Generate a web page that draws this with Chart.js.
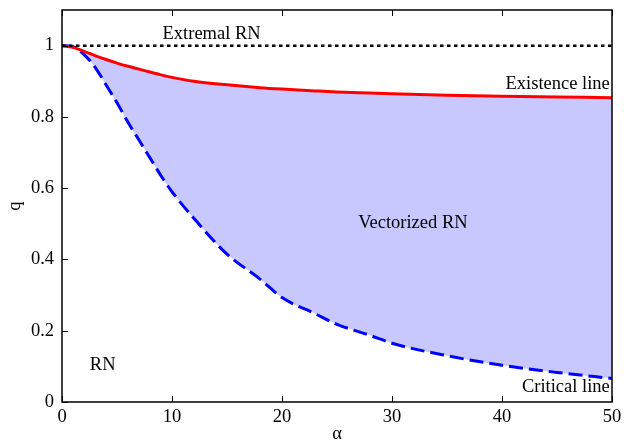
<!DOCTYPE html>
<html><head><meta charset="utf-8">
<script src="https://cdn.jsdelivr.net/npm/chart.js@4.4.1/dist/chart.umd.min.js"></script>
<style>html,body{margin:0;padding:0;background:#fff}</style>
</head><body>
<canvas id="c" width="624" height="440"></canvas>
<script>
// ---- data ----
const alpha     = [0, 1, 2, 3, 4, 5, 6, 7, 8, 9, 10, 12, 15, 18, 20, 23, 25, 28, 30, 35, 40, 45, 50];
const existence = [1.0, 0.995, 0.984, 0.972, 0.961, 0.951, 0.942, 0.934, 0.926, 0.918, 0.911, 0.900, 0.890, 0.882, 0.878, 0.873, 0.870, 0.867, 0.865, 0.861, 0.858, 0.856, 0.854];
const critical  = [1.0, 0.997, 0.975, 0.94, 0.89, 0.84, 0.785, 0.735, 0.685, 0.635, 0.59, 0.515, 0.415, 0.345, 0.293, 0.248, 0.218, 0.187, 0.165, 0.130, 0.103, 0.083, 0.066];
const extremalAlpha = [0, 50];
const extremal      = [1, 1];
const xTicks = [0, 10, 20, 30, 40, 50];
const yTicks = [0, 0.2, 0.4, 0.6, 0.8, 1];
const regionLabels = ["Extremal RN", "Existence line", "Vectorized RN", "RN", "Critical line"];
const regionAlpha  = [13.6, 49.8, 31.9, 3.7, 49.8];
const regionQ      = [1.033, 0.893, 0.503, 0.103, 0.041];

const FONT = '"Liberation Serif", "DejaVu Serif", serif';
const FS = 18.5;
const pts = (xs, ys) => xs.map((x, i) => ({x: x, y: ys[i]}));

const frameAndText = {
  id: 'frameAndText',
  afterDraw(chart) {
    const {ctx, chartArea: a, scales} = chart;
    const xs = scales.x, ys = scales.y;
    ctx.save();
    ctx.strokeStyle = '#000';
    ctx.lineWidth = 1.5;
    ctx.strokeRect(a.left, a.top, a.right - a.left, a.bottom - a.top);
    ctx.lineWidth = 1;
    ctx.beginPath();
    xTicks.forEach(v => {
      const p = Math.round(xs.getPixelForValue(v)) + 0.5;
      ctx.moveTo(p, a.bottom); ctx.lineTo(p, a.bottom - 6);
      ctx.moveTo(p, a.top); ctx.lineTo(p, a.top + 6);
    });
    yTicks.forEach(v => {
      const p = Math.round(ys.getPixelForValue(v)) + 0.5;
      ctx.moveTo(a.left, p); ctx.lineTo(a.left + 6, p);
    });
    ctx.stroke();
    ctx.fillStyle = '#000';
    ctx.font = FS + 'px ' + FONT;
    ctx.textBaseline = 'middle';
    regionLabels.forEach((t, i) => {
      const px = xs.getPixelForValue(regionAlpha[i]);
      const py = ys.getPixelForValue(regionQ[i]);
      ctx.textAlign = (regionAlpha[i] >= 49) ? 'right' : 'center';
      ctx.fillText(t, px, py);
    });
    ctx.restore();
  }
};

new Chart(document.getElementById('c'), {
  type: 'line',
  data: {
    datasets: [
      { label: 'Extremal RN', data: pts(extremalAlpha, extremal), borderColor: '#000', borderWidth: 2.5,
        borderDash: [3.5, 3.5], pointRadius: 0, fill: false },
      { label: 'Existence line', data: pts(alpha, existence), borderColor: '#ff0000', borderWidth: 3,
        pointRadius: 0, cubicInterpolationMode: 'monotone', fill: false },
      { label: 'Critical line', data: pts(alpha, critical), borderColor: '#0000ff', borderWidth: 3,
        borderDash: [14, 6], pointRadius: 0, cubicInterpolationMode: 'monotone',
        fill: 1, backgroundColor: 'rgb(200,200,255)' }
    ]
  },
  options: {
    responsive: false,
    animation: false,
    events: [],
    devicePixelRatio: 1,
    layout: { padding: { left: 0, right: 12, top: 10, bottom: 0 } },
    plugins: { legend: { display: false }, tooltip: { enabled: false } },
    scales: {
      x: {
        type: 'linear', min: 0, max: 50,
        afterBuildTicks: s => { s.ticks = xTicks.map(v => ({value: v})); },
        afterFit: s => { s.height = 38; s.paddingLeft = 0; s.paddingRight = 0; },
        grid: { display: false, drawTicks: false },
        border: { display: false },
        ticks: { color: '#000', font: { family: FONT, size: FS }, padding: 4, maxRotation: 0,
                 callback: v => String(v) },
        title: { display: true, text: 'α', color: '#000', font: { family: FONT, size: FS }, padding: { top: 0, bottom: -5 } }
      },
      y: {
        type: 'linear', min: 0, max: 1.1,
        afterBuildTicks: s => { s.ticks = yTicks.map(v => ({value: v})); },
        afterFit: s => { s.width = 62; s.paddingTop = 0; s.paddingBottom = 0; },
        grid: { display: false, drawTicks: false },
        border: { display: false },
        ticks: { color: '#000', font: { family: FONT, size: FS }, padding: 8,
                 callback: v => String(+v.toFixed(1)) },
        title: { display: true, text: 'q', color: '#000', font: { family: FONT, size: FS }, padding: { top: 4, bottom: 0 } }
      }
    }
  },
  plugins: [frameAndText]
});
</script>
</body></html>
